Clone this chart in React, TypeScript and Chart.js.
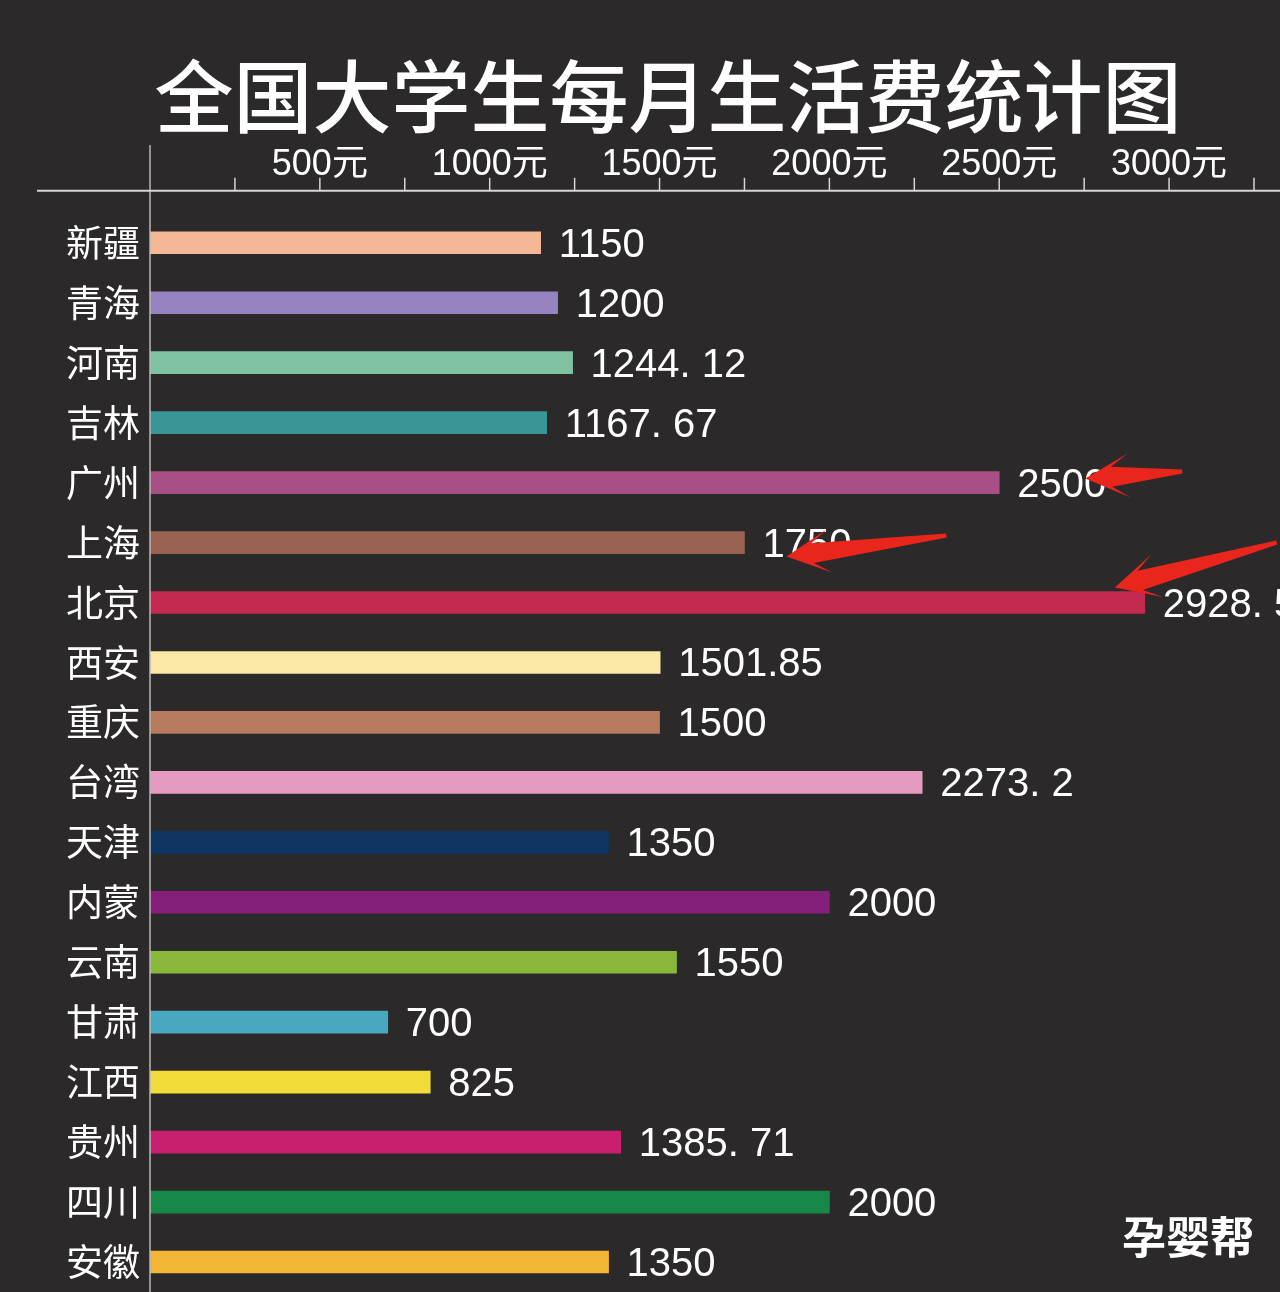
import React, { useEffect, useRef } from 'react';
import { Chart, registerables } from 'chart.js';

Chart.register(...registerables);

const titleText = '全国大学生每月生活费统计图';
const categories = ['新疆', '青海', '河南', '吉林', '广州', '上海', '北京', '西安', '重庆', '台湾', '天津', '内蒙', '云南', '甘肃', '江西', '贵州', '四川', '安徽'];
const values = [1150, 1200, 1244.12, 1167.67, 2500, 1750, 2928.5, 1501.85, 1500, 2273.2, 1350, 2000, 1550, 700, 825, 1385.71, 2000, 1350];
const valueLabels = ['1150', '1200', '1244. 12', '1167. 67', '2500', '1750', '2928. 5', '1501.85', '1500', '2273. 2', '1350', '2000', '1550', '700', '825', '1385. 71', '2000', '1350'];
const barColors = ['#f5b896', '#9683c0', '#7fc2a2', '#3a9596', '#a84f86', '#9a6250', '#c42a50', '#fbe7a6', '#b97b5d', '#e59bc0', '#0f3563', '#85207a', '#8ab83a', '#48a8bf', '#f2dc3a', '#c8206e', '#18884a', '#f2b534'];
const tickSuffix = '元';
const markedRows = ['广州', '上海', '北京'];
const watermark = '孕婴帮';

const BG = '#2b2929';
const CJK = '"Noto Sans CJK SC", "Noto Sans", sans-serif';
const NUM = '"Liberation Sans", "Noto Sans CJK SC", sans-serif';

function drawArrow(ctx: CanvasRenderingContext2D, sx: number, sy: number, tx: number, ty: number) {
  const dx = tx - sx, dy = ty - sy;
  const len = Math.hypot(dx, dy);
  const ux = dx / len, uy = dy / len;
  const nx = -uy, ny = ux;
  const headLen = 44, headW = 22;
  const bx = tx - ux * headLen, by = ty - uy * headLen;
  const mx = tx - ux * headLen * 0.6, my = ty - uy * headLen * 0.6;
  ctx.save();
  ctx.fillStyle = '#e8261c';
  ctx.beginPath();
  ctx.moveTo(sx + nx * 2, sy + ny * 2);
  ctx.lineTo(mx + nx * 10, my + ny * 10);
  ctx.lineTo(bx + nx * headW, by + ny * headW);
  ctx.lineTo(tx, ty);
  ctx.lineTo(bx - nx * headW, by - ny * headW);
  ctx.lineTo(mx - nx * 10, my - ny * 10);
  ctx.lineTo(sx - nx * 2, sy - ny * 2);
  ctx.closePath();
  ctx.fill();
  ctx.restore();
}

const decorPlugin = {
  id: 'decor',
  beforeDraw(chart: any) {
    const { ctx, width, height } = chart;
    ctx.save();
    ctx.fillStyle = BG;
    ctx.fillRect(0, 0, width, height);
    ctx.restore();
  },
  afterDatasetsDraw(chart: any) {
    const { ctx } = chart;
    const meta = chart.getDatasetMeta(0);
    ctx.save();
    ctx.fillStyle = '#ffffff';
    ctx.font = `40px ${NUM}`;
    ctx.textAlign = 'left';
    ctx.textBaseline = 'middle';
    meta.data.forEach((bar: any, i: number) => {
      ctx.fillText(valueLabels[i], bar.x + 18, bar.y + 3);
    });
    ctx.restore();
  },
  afterDraw(chart: any) {
    const { ctx, chartArea, scales, height, width } = chart;
    const xs = scales.x;
    const axisY = chartArea.top - 22;
    ctx.save();
    ctx.strokeStyle = '#b8b8b8';
    ctx.lineWidth = 1.5;
    ctx.beginPath();
    ctx.moveTo(chartArea.left, 145);
    ctx.lineTo(chartArea.left, height);
    ctx.stroke();
    ctx.strokeStyle = '#d6d6d6';
    ctx.lineWidth = 2;
    ctx.beginPath();
    ctx.moveTo(37, axisY);
    ctx.lineTo(width, axisY);
    ctx.stroke();
    ctx.lineWidth = 1.5;
    xs.ticks.forEach((t: any) => {
      if (t.value <= 0) return;
      const px = xs.getPixelForValue(t.value);
      ctx.beginPath();
      ctx.moveTo(px, axisY - 13);
      ctx.lineTo(px, axisY);
      ctx.stroke();
    });
    ctx.restore();

    const meta = chart.getDatasetMeta(0);
    const offsets: Record<string, number[]> = {
      '广州': [183, -11, 86, -4],
      '上海': [202, -7, 42, 14],
      '北京': [132, -60, -30, -15],
    };
    markedRows.forEach((name) => {
      const i = categories.indexOf(name);
      const bar = meta.data[i];
      const o = offsets[name];
      drawArrow(ctx, bar.x + o[0], bar.y + o[1], bar.x + o[2], bar.y + o[3]);
    });

    ctx.save();
    ctx.fillStyle = '#ffffff';
    ctx.font = `bold 44px ${CJK}`;
    ctx.textAlign = 'right';
    ctx.textBaseline = 'alphabetic';
    ctx.fillText(watermark, 1254, 1254);
    ctx.restore();
  },
};

export default function App() {
  const ref = useRef<HTMLCanvasElement | null>(null);

  useEffect(() => {
    document.body.style.margin = '0';
    document.body.style.background = BG;
    const canvas = ref.current;
    if (!canvas) return;
    const chart = new Chart(canvas, {
      type: 'bar',
      data: {
        labels: categories,
        datasets: [
          {
            data: values,
            backgroundColor: barColors,
            borderWidth: 0,
            barThickness: 22,
          },
        ],
      },
      options: {
        indexAxis: 'y',
        responsive: false,
        animation: false,
        layout: { padding: { left: 56, right: 0, top: 0, bottom: 0 } },
        plugins: {
          legend: { display: false },
          tooltip: { enabled: false },
          title: {
            display: true,
            text: titleText,
            color: '#ffffff',
            font: { family: CJK, size: 79, weight: '500', lineHeight: 1.2 },
            padding: { top: 50, bottom: 0 },
          },
        },
        scales: {
          x: {
            position: 'top',
            min: 0,
            max: 3325,
            grid: { display: false, drawTicks: false },
            border: { display: false },
            ticks: {
              stepSize: 250,
              includeBounds: false,
              autoSkip: false,
              maxRotation: 0,
              padding: 26,
              color: '#ffffff',
              font: { family: NUM, size: 36 },
              callback: (v: any) => (Number(v) > 0 && Number(v) % 500 === 0 ? `${v}${tickSuffix}` : ''),
            },
            afterFit: (scale: any) => {
              scale.height = 68;
            },
          },
          y: {
            grid: { display: false, drawTicks: false },
            border: { display: false },
            ticks: {
              color: '#ffffff',
              padding: 10,
              font: { family: CJK, size: 37 },
            },
            afterFit: (scale: any) => {
              scale.width = 94;
              scale.paddingTop = 0;
              scale.paddingBottom = 0;
            },
          },
        },
      },
      plugins: [decorPlugin],
    } as any);
    return () => chart.destroy();
  }, []);

  return (
    <div style={{ width: 1280, height: 1292, background: BG }}>
      <canvas ref={ref} width={1280} height={1292} style={{ display: 'block' }} />
    </div>
  );
}
